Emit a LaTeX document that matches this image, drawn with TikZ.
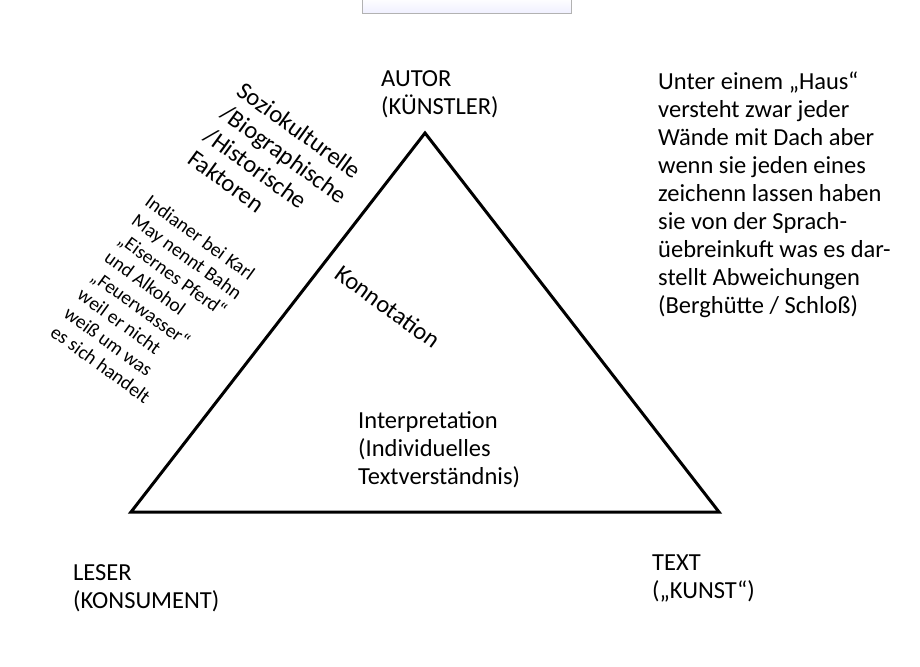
\documentclass[tikz,border=0pt]{standalone}
\usepackage{fontspec}
\setmainfont{Carlito}

\begin{document}
\begin{tikzpicture}[x=1pt, y=-1pt,
	every node/.style={inner sep=0pt, align=left, font=\fontsize{24.5}{28}\selectfont},
	tilt/.style={rotate=-36, anchor=base west},
	small/.style={font=\fontsize{19.5}{23}\selectfont}]
	\useasboundingbox (0,0) rectangle (920,666);
	\shade[top color=white, bottom color=blue!6, draw=gray!60] (362,-2) rectangle (571,13);
	\coordinate (apex) at (425,133);
	\coordinate (leser) at (131,512);
	\coordinate (text) at (719,512);
	\draw[line width=3pt] (apex) -- (leser) -- (text) -- cycle;
	\node[anchor=base west] (autorlbl) at (381,114) {AUTOR\\(KÜNSTLER)};
	\node[anchor=base west] (leserlbl) at (73,608) {LESER\\(KONSUMENT)};
	\node[anchor=base west] (textlbl) at (652,598) {TEXT\\(„KUNST“)};
	\node[anchor=base west] (interp) at (358,484) {Interpretation\\(Individuelles\\Textverständnis)};
	\node[tilt] (konnot) at (333,277) {Konnotation};
	\node[tilt] (faktoren) at (186,162) {Soziokulturelle\\/Biographische\\/Historische\\Faktoren};
	\node[tilt, small] (beispiel) at (49,335) {Indianer bei Karl\\May nennt Bahn\\„Eisernes Pferd“\\und Alkohol\\„Feuerwasser“\\weil er nicht\\weiß um was\\es sich handelt};
	\node[anchor=base west] (haus) at (658,313) {Unter einem „Haus“\\versteht zwar jeder\\Wände mit Dach aber\\wenn sie jeden eines\\zeichenn lassen haben\\sie von der Sprach-\\üebreinkuft was es dar-\\stellt Abweichungen\\(Berghütte / Schloß)};
\end{tikzpicture}
\end{document}
